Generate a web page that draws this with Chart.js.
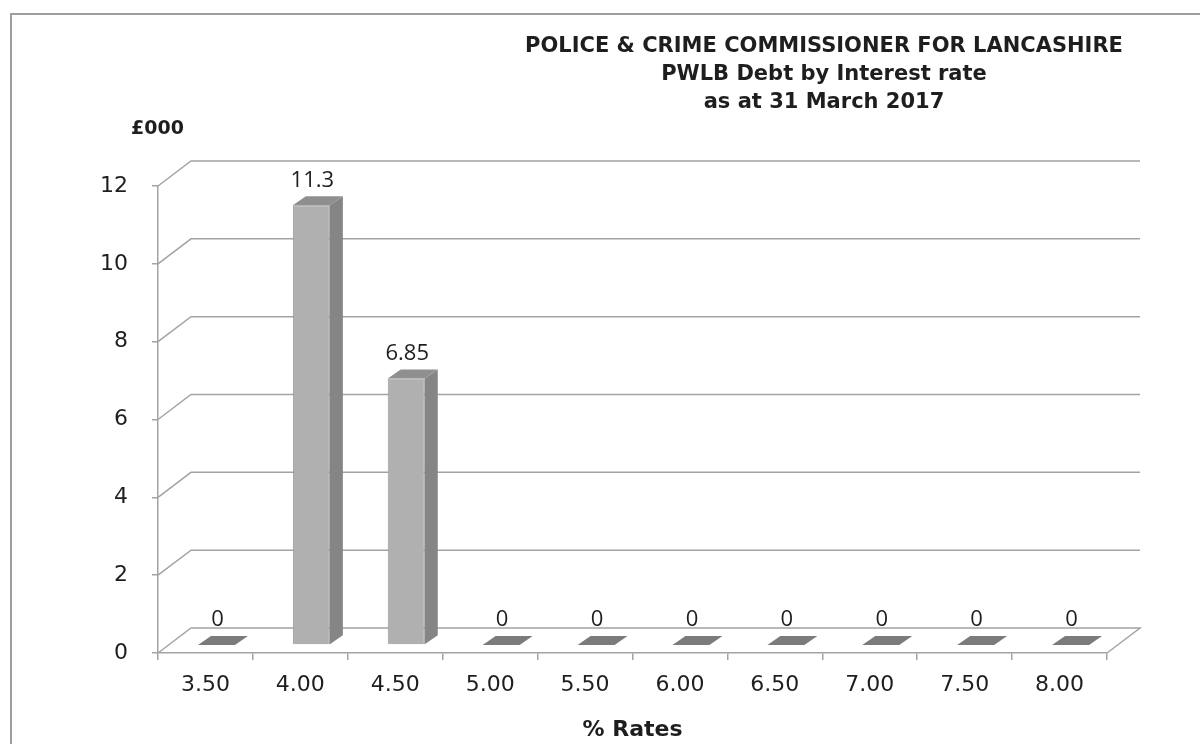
<!DOCTYPE html>
<html>
<head>
<meta charset="utf-8">
<script src="https://cdn.jsdelivr.net/npm/chart.js@4.4.1/dist/chart.umd.min.js"></script>
<style>
  html, body { margin: 0; padding: 0; background: #fff; }
  #wrap { position: relative; width: 1200px; height: 744px; overflow: hidden; }
  #frame { position: absolute; left: 10px; top: 13px; right: -5px; bottom: -5px;
           border-left: 2px solid #9d9d9d; border-top: 2px solid #9d9d9d; }
  #title { position: absolute; left: 424px; top: 31px; width: 800px; text-align: center;
           font: bold 21px 'DejaVu Sans'; line-height: 28px; color: #1e1e1e; }
  #unit  { position: absolute; left: 131px; top: 116px; font: bold 19px 'DejaVu Sans'; color: #1e1e1e; }
  canvas { position: absolute; left: 0; top: 0; }
</style>
</head>
<body>
<div id="wrap">
  <div id="frame"></div>
  <canvas id="debtChart" width="1200" height="744"></canvas>
  <div id="title"></div>
  <div id="unit"></div>
</div>
<script>
const $ = (id) => document.getElementById(id);

// chart data
const titleLines = ['POLICE & CRIME COMMISSIONER FOR LANCASHIRE', 'PWLB Debt by Interest rate', 'as at 31 March 2017'];
const unitLabel = '£000';
const rates = ['3.50', '4.00', '4.50', '5.00', '5.50', '6.00', '6.50', '7.00', '7.50', '8.00'];
const debt  = [0, 11.3, 6.85, 0, 0, 0, 0, 0, 0, 0];
const yTicks = [0, 2, 4, 6, 8, 10, 12];

$('title').innerHTML = titleLines.join('<br>');
$('unit').textContent = unitLabel;

// fake 3D: back wall offset, bar offset from the front plane, bar depth
const WALL  = { dx: 33, dy: -25 };
const SHIFT = { dx: 11, dy: -8 };
const DEPTH = { dx: 13, dy: -9 };
const GRID = '#a3a3a3';
const INK = '#1e1e1e';

function poly(ctx, pts) {
  ctx.beginPath();
  ctx.moveTo(pts[0][0], pts[0][1]);
  for (let i = 1; i < pts.length; i++) ctx.lineTo(pts[i][0], pts[i][1]);
  ctx.closePath();
  ctx.fill();
}

const box3d = {
  id: 'box3d',
  beforeDatasetsDraw(chart) {
    const { ctx, chartArea: a, scales: { y } } = chart;
    ctx.save();
    ctx.strokeStyle = GRID; ctx.lineWidth = 1.5;
    y.ticks.forEach(t => {
      const py = y.getPixelForValue(t.value);
      ctx.beginPath();
      ctx.moveTo(a.left, py);
      ctx.lineTo(a.left + WALL.dx, py + WALL.dy);
      ctx.lineTo(a.right + WALL.dx, py + WALL.dy);
      if (t.value === 0) ctx.lineTo(a.right, py);   // right edge of the floor
      ctx.stroke();
    });
    ctx.restore();
  },
  beforeDatasetDraw(chart) {
    chart.ctx.save();
    chart.ctx.translate(SHIFT.dx, SHIFT.dy);
  },
  afterDatasetDraw(chart, args) {
    const ctx = chart.ctx;
    const vals = chart.data.datasets[args.index].data;
    args.meta.data.forEach((bar, i) => {
      const { x, y, base, width } = bar.getProps(['x', 'y', 'base', 'width'], true);
      const l = x - width / 2, r = x + width / 2;
      if (base - y > 1) {
        ctx.fillStyle = '#858585';   // side
        poly(ctx, [[r, y], [r + DEPTH.dx, y + DEPTH.dy], [r + DEPTH.dx, base + DEPTH.dy], [r, base]]);
      }
      ctx.fillStyle = base - y > 1 ? '#8f8f8f' : '#7b7b7b';   // top
      poly(ctx, [[l, y], [l + DEPTH.dx, y + DEPTH.dy], [r + DEPTH.dx, y + DEPTH.dy], [r, y]]);

      ctx.fillStyle = INK;
      ctx.font = '500 22px "Open Sans"';
      ctx.textAlign = 'center'; ctx.textBaseline = 'middle';
      ctx.fillText(String(vals[i]), x + 1, y + DEPTH.dy - 16);
    });
    ctx.restore();
  }
};

new Chart($('debtChart'), {
  type: 'bar',
  data: {
    labels: rates,
    datasets: [{
      data: debt,
      backgroundColor: '#b0b0b0',
      borderColor: '#979797',
      borderWidth: 1,
      barPercentage: 0.39,
      categoryPercentage: 1,
      clip: false
    }]
  },
  plugins: [box3d],
  options: {
    responsive: false, animation: false,
    layout: { padding: { left: 11, top: 186, right: 93, bottom: 0 } },
    plugins: { legend: { display: false }, tooltip: { enabled: false } },
    scales: {
      x: {
        offset: true,
        grid: { offset: true, drawOnChartArea: false, tickLength: 7, color: GRID, lineWidth: 1.5 },
        border: { color: GRID, width: 1.5 },
        ticks: { font: { family: 'DejaVu Sans', size: 22 }, color: INK, padding: 12, maxRotation: 0 },
        title: { display: true, text: '% Rates', font: { family: 'DejaVu Sans', size: 22, weight: 'bold' },
                 color: INK, padding: { top: 0, bottom: 1 } },
        afterFit: (s) => { s.height = 91; }
      },
      y: {
        min: 0, max: 12,
        afterBuildTicks: (s) => { s.ticks = yTicks.map(v => ({ value: v })); },
        grid: { drawOnChartArea: false, tickLength: 6, color: GRID, lineWidth: 1.5 },
        border: { color: GRID, width: 1.5 },
        ticks: { font: { family: 'DejaVu Sans', size: 22 }, color: INK, padding: 24 },
        afterFit: (s) => { s.width = 147; }
      }
    }
  }
});
</script>
</body>
</html>
